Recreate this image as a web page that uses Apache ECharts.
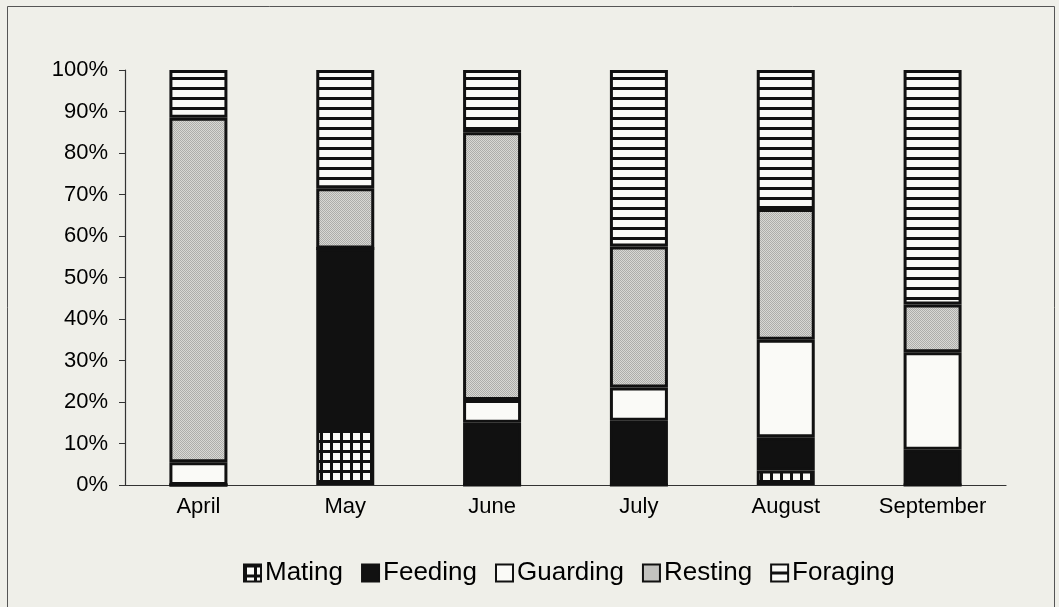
<!DOCTYPE html>
<html>
<head>
<meta charset="utf-8">
<script src="https://cdn.jsdelivr.net/npm/echarts@6/dist/echarts.min.js"></script>
<style>
  html, body { margin: 0; padding: 0; background: #efefe9; }
  #main { width: 1059px; height: 607px; }
</style>
</head>
<body>
<div id="main"></div>
<script>
// 数据
const months = ['April', 'May', 'June', 'July', 'August', 'September']
const mating   = [0, 14, 0, 0, 3.5, 0]
const feeding  = [0, 43, 15, 15.5, 8, 8.5]
const guarding = [5.5, 0, 5.5, 8, 23.5, 23.5]
const resting  = [83, 14.5, 64.5, 34, 31.5, 11.5]
const foraging = [11.5, 28.5, 15, 42.5, 33.5, 56.5]
const yTicks = [0, 10, 20, 30, 40, 50, 60, 70, 80, 90, 100]

// 画填充图案
function makeTile(w, h, draw) {
  let c = document.createElement('canvas')
  c.width = w
  c.height = h
  draw(c.getContext('2d'))
  return c
}

const gridPat = makeTile(10, 10, ctx => {
  ctx.fillStyle = '#111'
  ctx.fillRect(0, 0, 10, 10)
  ctx.fillStyle = '#fafaf7'
  ctx.fillRect(3, 3, 7, 7)
})
const stripePat = makeTile(10, 10, ctx => {
  ctx.fillStyle = '#fafaf7'
  ctx.fillRect(0, 0, 10, 10)
  ctx.fillStyle = '#111'
  ctx.fillRect(0, 7, 10, 3)
})
const dotPat = makeTile(2, 2, ctx => {
  ctx.fillStyle = '#d8d8d4'
  ctx.fillRect(0, 0, 2, 2)
  ctx.fillStyle = '#adadaa'
  ctx.fillRect(0, 0, 1, 1)
  ctx.fillRect(1, 1, 1, 1)
})

function bar(name, data, color) {
  return {
    name: name,
    type: 'bar',
    stack: 'all',
    barWidth: 58,
    data: data,
    itemStyle: { color: color, borderColor: '#111', borderWidth: 3 }
  }
}

var myChart = echarts.init(document.getElementById('main'))

var option = {
  backgroundColor: '#efefe9',
  animation: false,
  textStyle: { fontFamily: 'Liberation Sans, Arial, sans-serif', color: '#000' },
  graphic: [{
    type: 'rect',
    shape: { x: 7.5, y: 6.5, width: 1047, height: 610 },
    style: { fill: 'none', stroke: '#555', lineWidth: 1 }
  }],
  grid: { left: 125, right: 53, top: 70, bottom: 122 },
  legend: {
    bottom: 16,
    left: 238,
    icon: 'rect',
    itemWidth: 17,
    itemHeight: 17,
    itemGap: 18,
    textStyle: { fontSize: 26, color: '#000', padding: [0, 0, 0, -1] },
    data: ['Mating', 'Feeding', 'Guarding', 'Resting', 'Foraging']
  },
  xAxis: {
    type: 'category',
    data: months,
    axisLine: { lineStyle: { color: '#333', width: 1.2 } },
    axisTick: { length: 6, lineStyle: { color: '#333' } },
    axisLabel: { fontSize: 22, color: '#000', margin: 11 }
  },
  yAxis: {
    type: 'value',
    min: yTicks[0],
    max: yTicks[yTicks.length - 1],
    interval: 10,
    splitLine: { show: false },
    axisLine: { show: true, lineStyle: { color: '#333', width: 1.2 } },
    axisTick: { show: true, length: 6, lineStyle: { color: '#333' } },
    axisLabel: { fontSize: 22, color: '#000', margin: 17, formatter: '{value}%' }
  },
  series: [
    bar('Mating', mating, { image: gridPat, repeat: 'repeat' }),
    bar('Feeding', feeding, '#111'),
    bar('Guarding', guarding, '#fafaf7'),
    bar('Resting', resting, { image: dotPat, repeat: 'repeat' }),
    bar('Foraging', foraging, { image: stripePat, repeat: 'repeat' })
  ]
}

option && myChart.setOption(option)
</script>
</body>
</html>
